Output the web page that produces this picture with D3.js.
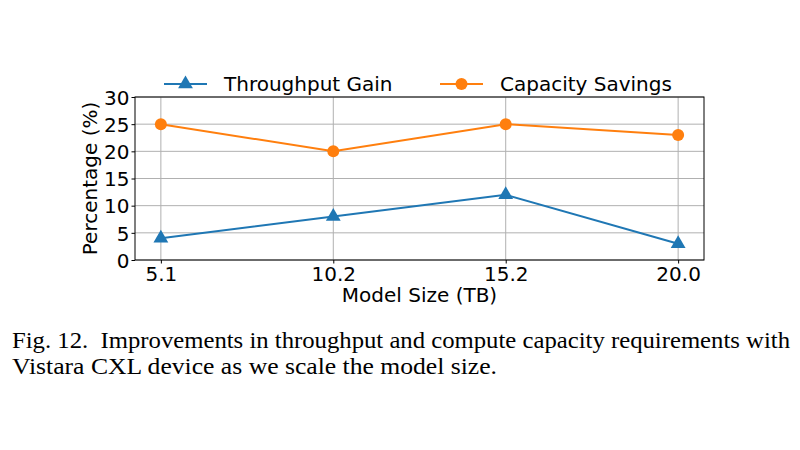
<!DOCTYPE html>
<html><head><meta charset="utf-8">
<script src="https://cdn.jsdelivr.net/npm/d3@7"></script>
<style>body{margin:0;background:#fff}svg{display:block}</style>
</head><body>
<svg id="c" width="800" height="450"></svg>
<script>
const categories = ["5.1", "10.2", "15.2", "20.0"];
const throughputGain = [4, 8, 12, 3];
const capacitySavings = [25, 20, 25, 23];
const yTicks = [0, 5, 10, 15, 20, 25, 30];
const seriesNames = ["Throughput Gain", "Capacity Savings"];
const captionLines = [
  "Fig. 12.  Improvements in throughput and compute capacity requirements with",
  "Vistara CXL device as we scale the model size."
];

const svg = d3.select("#c");
const L = 135, R = 704, T = 97, B = 260;
const font = "DejaVu Sans, sans-serif";
const x = d3.scalePoint().domain(categories).range([L, R]).padding(0.15);
const y = d3.scaleLinear().domain([0, 30]).range([B, T]);
const blue = "#1f77b4", orange = "#ff7f0e";

// grid
const g = svg.append("g");
g.selectAll(".gx").data(categories).join("line")
  .attr("x1", d => x(d)).attr("x2", d => x(d)).attr("y1", T).attr("y2", B)
  .attr("stroke", "#b0b0b0").attr("stroke-width", 1);
g.selectAll(".gy").data(yTicks).join("line")
  .attr("x1", L).attr("x2", R).attr("y1", d => y(d)).attr("y2", d => y(d))
  .attr("stroke", "#b0b0b0").attr("stroke-width", 1);

// axes
const xAxis = svg.append("g").attr("transform", `translate(0,${B})`)
  .call(d3.axisBottom(x).tickSize(3.5).tickPadding(3));
const yAxis = svg.append("g").attr("transform", `translate(${L},0)`)
  .call(d3.axisLeft(y).tickValues(yTicks).tickSize(3.5).tickPadding(2));
[xAxis, yAxis].forEach(a => {
  a.select(".domain").remove();
  a.selectAll("text").attr("font-family", font).attr("font-size", 20).attr("fill", "#000");
  a.selectAll("line").attr("stroke", "#000");
});
yAxis.selectAll("text").attr("dy", "0.36em");

// frame
svg.append("rect").attr("x", L).attr("y", T).attr("width", R - L).attr("height", B - T)
  .attr("fill", "none").attr("stroke", "#000").attr("stroke-width", 1);

// lines
const line = d3.line().x((d, i) => x(categories[i])).y(d => y(d));
svg.append("path").datum(throughputGain).attr("d", line)
  .attr("fill", "none").attr("stroke", blue).attr("stroke-width", 2);
svg.append("path").datum(capacitySavings).attr("d", line)
  .attr("fill", "none").attr("stroke", orange).attr("stroke-width", 2);

const tri = d3.symbol().type(d3.symbolTriangle).size(95);
svg.selectAll(".tri").data(throughputGain).join("path")
  .attr("d", tri).attr("fill", blue)
  .attr("transform", (d, i) => `translate(${x(categories[i])},${y(d)})`);
svg.selectAll(".cir").data(capacitySavings).join("circle")
  .attr("cx", (d, i) => x(categories[i])).attr("cy", d => y(d)).attr("r", 6).attr("fill", orange);

// axis labels
svg.append("text").attr("x", (L + R) / 2).attr("y", 302).attr("text-anchor", "middle")
  .attr("font-family", font).attr("font-size", 20).text("Model Size (TB)");
svg.append("text").attr("transform", `translate(97,${(T + B) / 2}) rotate(-90)`)
  .attr("text-anchor", "middle").attr("font-family", font).attr("font-size", 20).text("Percentage (%)");

// legend
const leg = [{name: seriesNames[0], c: blue, m: "tri", x0: 164}, {name: seriesNames[1], c: orange, m: "cir", x0: 440}];
const ly = 84;
leg.forEach(l => {
  svg.append("line").attr("x1", l.x0).attr("x2", l.x0 + 43).attr("y1", ly).attr("y2", ly)
    .attr("stroke", l.c).attr("stroke-width", 2);
  if (l.m === "tri") svg.append("path").attr("d", tri).attr("fill", l.c).attr("transform", `translate(${l.x0 + 21.5},${ly})`);
  else svg.append("circle").attr("cx", l.x0 + 21.5).attr("cy", ly).attr("r", 6).attr("fill", l.c);
  svg.append("text").attr("x", l.x0 + 60).attr("y", ly).attr("dy", "0.35em")
    .attr("font-family", font).attr("font-size", 20).text(l.name);
});

// caption
const capFont = "Liberation Serif, Times New Roman, serif";
svg.append("text").attr("x", 12).attr("y", 348).attr("font-family", capFont).attr("font-size", 24)
  .attr("textLength", 778).attr("lengthAdjust", "spacingAndGlyphs").style("white-space", "pre").text(captionLines[0]);
svg.append("text").attr("x", 12).attr("y", 374).attr("font-family", capFont).attr("font-size", 24)
  .attr("textLength", 485).attr("lengthAdjust", "spacingAndGlyphs").text(captionLines[1]);
</script>
</body></html>
